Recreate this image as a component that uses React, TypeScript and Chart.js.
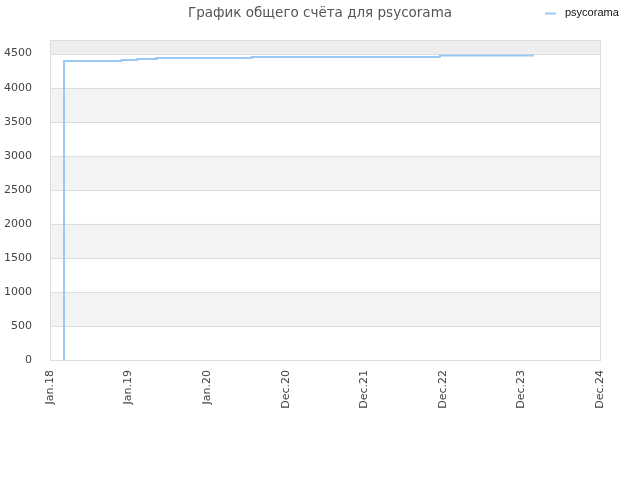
import React, { useEffect, useRef } from 'react';
import { Chart, registerables } from 'chart.js';

Chart.register(...registerables);

const DAY = 86400000;
const AXIS_START = Date.UTC(2018, 0, 1);
const AXIS_END = AXIS_START + 7 * 365 * DAY;
const MONTHS = ['Jan', 'Feb', 'Mar', 'Apr', 'May', 'Jun', 'Jul', 'Aug', 'Sep', 'Oct', 'Nov', 'Dec'];

// score history (step changes)
const dates = ['2018-03-07', '2018-03-07', '2018-11-30', '2019-02-10', '2019-05-11', '2020-07-26', '2022-12-17', '2024-02-27'];
const scores = [0, 4392, 4406, 4421, 4435, 4450, 4471, 4471];
const yTicks = [0, 500, 1000, 1500, 2000, 2500, 3000, 3500, 4000, 4500];

const seriesName = 'psycorama';
const title = 'График общего счёта для psycorama';
const lineColor = '#99c8f5';

const decorPlugin = {
    id: 'decor',
    beforeDatasetsDraw(chart: any) {
        const { ctx, chartArea: a, scales } = chart;
        const y = scales.y;
        ctx.save();
        // alternating bands
        for (let v = 500; v < 4700; v += 1000) {
            const top = y.getPixelForValue(Math.min(v + 500, 4700));
            const bot = y.getPixelForValue(v);
            ctx.fillStyle = '#f3f3f3';
            ctx.fillRect(a.left, top, a.right - a.left, bot - top);
        }
        const t = y.getPixelForValue(4700);
        const b = y.getPixelForValue(4500);
        ctx.fillStyle = '#eeeeee';
        ctx.fillRect(a.left, t, a.right - a.left, b - t);
        // grid lines
        ctx.strokeStyle = '#dddddd';
        ctx.lineWidth = 1;
        for (const v of yTicks) {
            const py = Math.round(y.getPixelForValue(v)) + 0.5;
            ctx.beginPath();
            ctx.moveTo(a.left, py);
            ctx.lineTo(a.right, py);
            ctx.stroke();
        }
        ctx.strokeRect(Math.round(a.left) + 0.5, Math.round(a.top) + 0.5, a.right - a.left, a.bottom - a.top);
        ctx.restore();
    },
    afterDraw(chart: any) {
        const { ctx } = chart;
        ctx.save();
        ctx.font = '13.5px "DejaVu Sans"';
        ctx.fillStyle = '#555555';
        ctx.textAlign = 'center';
        ctx.textBaseline = 'middle';
        ctx.fillText(title, 320, 13);
        ctx.strokeStyle = lineColor;
        ctx.lineWidth = 2;
        ctx.beginPath();
        ctx.moveTo(545, 13.5);
        ctx.lineTo(556, 13.5);
        ctx.stroke();
        ctx.font = '11px "Liberation Sans"';
        ctx.fillStyle = '#111111';
        ctx.textAlign = 'left';
        ctx.fillText(seriesName, 565, 13);
        ctx.restore();
    },
};

export default function App() {
    const canvasRef = useRef<HTMLCanvasElement>(null);

    useEffect(() => {
        document.body.style.margin = '0';
        if (!canvasRef.current) return;
        const chart = new Chart(canvasRef.current, {
            type: 'line',
            data: {
                datasets: [{
                    label: seriesName,
                    data: dates.map((d, i) => ({ x: Date.parse(d), y: scores[i] })),
                    borderColor: lineColor,
                    backgroundColor: lineColor,
                    borderWidth: 2,
                    pointRadius: 0,
                    stepped: 'before',
                    fill: false,
                }],
            },
            options: {
                animation: false,
                responsive: false,
                layout: { padding: { top: 40, right: 40, left: 0, bottom: 0 } },
                scales: {
                    x: {
                        type: 'linear',
                        min: AXIS_START,
                        max: AXIS_END,
                        afterBuildTicks: (axis: any) => {
                            const t = [];
                            for (let i = 0; i <= 7; i++) t.push({ value: AXIS_START + i * 365 * DAY });
                            axis.ticks = t;
                        },
                        afterFit: (axis: any) => { axis.height = 120; },
                        grid: { display: false },
                        border: { display: false },
                        ticks: {
                            minRotation: 90,
                            maxRotation: 90,
                            autoSkip: false,
                            padding: 2,
                            color: '#444444',
                            font: { family: '"DejaVu Sans"', size: 11 },
                            callback: (v: any) => {
                                const d = new Date(Number(v));
                                return MONTHS[d.getUTCMonth()] + '.' + String(d.getUTCFullYear()).slice(2);
                            },
                        },
                    },
                    y: {
                        min: 0,
                        max: 4700,
                        afterBuildTicks: (axis: any) => {
                            axis.ticks = yTicks.map((v) => ({ value: v }));
                        },
                        afterFit: (axis: any) => { axis.width = 50; },
                        grid: { display: false },
                        border: { display: false },
                        ticks: {
                            autoSkip: false,
                            padding: 10,
                            color: '#444444',
                            font: { family: '"DejaVu Sans"', size: 11 },
                            callback: (v: any) => String(v),
                        },
                    },
                },
                plugins: {
                    legend: { display: false },
                    title: { display: false },
                    tooltip: { enabled: false },
                },
            },
            plugins: [decorPlugin],
        });
        return () => chart.destroy();
    }, []);

    return <canvas ref={canvasRef} width={640} height={480}></canvas>;
}
